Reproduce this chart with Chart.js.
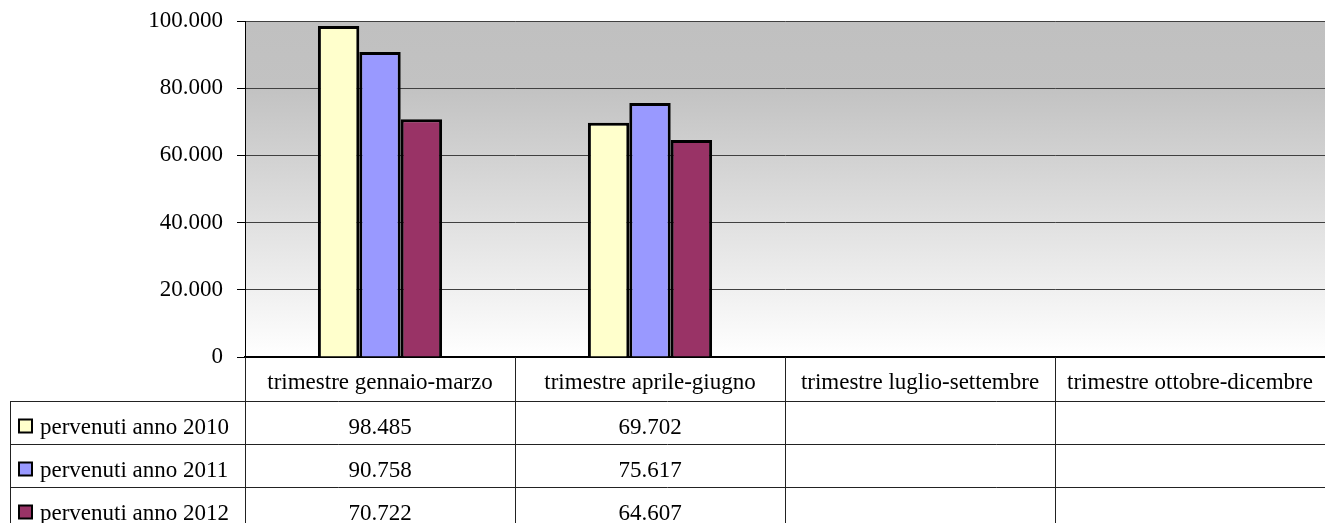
<!DOCTYPE html>
<html>
<head>
<meta charset="utf-8">
<script src="https://cdn.jsdelivr.net/npm/chart.js@4/dist/chart.umd.min.js"></script>
<style>
  html, body { margin: 0; padding: 0; background: #fff; }
  #wrap { width: 1325px; height: 523px; }
</style>
</head>
<body>
<div id="wrap"><canvas id="chart" width="1325" height="523"></canvas></div>
<script>
const categories = [
  'trimestre gennaio-marzo',
  'trimestre aprile-giugno',
  'trimestre luglio-settembre',
  'trimestre ottobre-dicembre'
];
const labels2010 = 'pervenuti anno 2010';
const labels2011 = 'pervenuti anno 2011';
const labels2012 = 'pervenuti anno 2012';
const values2010 = [98485, 69702, null, null];
const values2011 = [90758, 75617, null, null];
const values2012 = [70722, 64607, null, null];
const yTicks = [0, 20000, 40000, 60000, 80000, 100000];

const FONT = '"Liberation Serif", "DejaVu Serif", serif';

// 98485 -> "98.485"
function fmt(v) {
  return String(v).replace(/\B(?=(\d{3})+(?!\d))/g, '.');
}

// gray-to-white plot background
const bgPlugin = {
  id: 'plotBg',
  beforeDraw(chart) {
    const { ctx, chartArea: a } = chart;
    const g = ctx.createLinearGradient(0, a.top, 0, a.bottom);
    g.addColorStop(0, '#c0c0c0');
    g.addColorStop(0.2, '#c2c2c2');
    g.addColorStop(1, '#ffffff');
    ctx.save();
    ctx.fillStyle = g;
    ctx.fillRect(a.left, a.top, a.right - a.left, a.bottom - a.top);
    ctx.restore();
  }
};

// data table under the plot
const tablePlugin = {
  id: 'dataTable',
  afterDraw(chart) {
    const { ctx, chartArea: a, scales } = chart;
    const x = scales.x;
    const step = x.getPixelForValue(1) - x.getPixelForValue(0);
    const headerBottom = 401;
    const rowH = 43;
    const bottom = chart.height;
    const leftEdge = 10;

    ctx.save();
    ctx.strokeStyle = '#222';
    ctx.lineWidth = 1;

    // vertical lines
    ctx.beginPath();
    ctx.moveTo(leftEdge + 0.5, headerBottom);
    ctx.lineTo(leftEdge + 0.5, bottom);
    for (let i = 0; i < categories.length; i++) {
      const xl = Math.round(x.getPixelForValue(i) - step / 2) + 0.5;
      ctx.moveTo(xl, a.bottom);
      ctx.lineTo(xl, bottom);
    }
    // horizontal lines
    for (let r = 0; r < 3; r++) {
      const y = headerBottom + r * rowH + 0.5;
      ctx.moveTo(leftEdge, y);
      ctx.lineTo(a.right, y);
    }
    ctx.stroke();

    ctx.fillStyle = '#000';
    ctx.font = '23px ' + FONT;
    ctx.textBaseline = 'middle';
    ctx.textAlign = 'center';
    categories.forEach((c, i) => {
      ctx.fillText(c, x.getPixelForValue(i), (a.bottom + headerBottom) / 2 + 4);
    });

    chart.data.datasets.forEach((ds, r) => {
      const yc = headerBottom + r * rowH + rowH / 2 + 5;
      // legend key
      ctx.fillStyle = ds.backgroundColor;
      ctx.fillRect(19, yc - 8, 13, 13);
      ctx.lineWidth = 2;
      ctx.strokeStyle = '#000';
      ctx.strokeRect(19, yc - 8, 13, 13);
      ctx.fillStyle = '#000';
      ctx.textAlign = 'left';
      ctx.fillText(ds.label, 40, yc);
      ctx.textAlign = 'center';
      ds.data.forEach((v, i) => {
        if (v !== null) ctx.fillText(fmt(v), x.getPixelForValue(i), yc);
      });
    });
    ctx.restore();
  }
};

const barStyle = { borderColor: '#000', borderWidth: 3, categoryPercentage: 0.46, barPercentage: 1 };

new Chart(document.getElementById('chart').getContext('2d'), {
  type: 'bar',
  data: {
    labels: categories,
    datasets: [
      { label: labels2010, data: values2010, backgroundColor: '#ffffcc', ...barStyle },
      { label: labels2011, data: values2011, backgroundColor: '#9999ff', ...barStyle },
      { label: labels2012, data: values2012, backgroundColor: '#993366', ...barStyle }
    ]
  },
  options: {
    responsive: false,
    animation: false,
    layout: { padding: { top: 21, right: 0, left: 0, bottom: 0 } },
    plugins: {
      legend: { display: false },
      tooltip: { enabled: false }
    },
    scales: {
      x: {
        ticks: { display: false },
        grid: { display: false },
        border: { color: '#000', width: 2 },
        afterFit(scale) { scale.height = 166; }
      },
      y: {
        min: 0,
        max: 100000,
        afterBuildTicks(scale) { scale.ticks = yTicks.map(v => ({ value: v })); },
        ticks: {
          color: '#000',
          padding: 14,
          font: { family: FONT, size: 23 },
          callback: v => fmt(v)
        },
        grid: { color: '#404040', tickLength: 8, tickColor: '#000' },
        border: { color: '#000', width: 1 },
        afterFit(scale) {
          scale.width = 245;
          scale.paddingTop = 0;
          scale.paddingBottom = 0;
        }
      }
    }
  },
  plugins: [bgPlugin, tablePlugin]
});
</script>
</body>
</html>
